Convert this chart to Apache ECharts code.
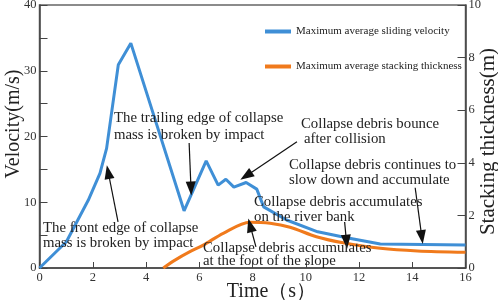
<!DOCTYPE html>
<html><head><meta charset="utf-8">
<script src="https://cdn.jsdelivr.net/npm/echarts@6/dist/echarts.min.js"></script>
<style>html,body{margin:0;padding:0;background:#fff}#c{width:498px;height:300px}</style>
</head><body><div id="c"></div>
<script>
// Maximum average sliding velocity (m/s)
const velTime = [0, 1.01, 1.83, 2.27, 2.52, 2.96, 3.43, 5.43, 6.26, 6.71, 7.0, 7.3, 7.76, 8.16, 8.42, 9.28, 10.45, 11.54, 12.8, 16];
const velocity = [0, 4.0, 10.3, 14.4, 18.2, 30.9, 34.2, 8.7, 16.3, 12.6, 13.5, 12.3, 13.0, 12.0, 9.3, 7.3, 5.5, 4.6, 3.65, 3.5];
// Maximum average stacking thickness (m)
const thkTime = [4.65, 5.09, 5.65, 6.15, 6.9, 7.9, 8.66, 9.41, 10.4, 11.4, 12.8, 14.2, 16];
const thickness = [0, 0.30, 0.62, 0.87, 1.32, 1.74, 1.70, 1.55, 1.19, 0.96, 0.75, 0.65, 0.6];
const seriesNames = ['Maximum average sliding velocity', 'Maximum average stacking thickness'];
// annotation arrows: [fromTime, fromVel, toTime, toVel] (velocity-axis units)
const arrows = [
  [2.95, 7.0, 2.58, 14.6],
  [5.62, 19.0, 5.69, 12.1],
  [9.67, 19.2, 7.76, 14.0],
  [11.46, 7.0, 11.53, 4.0],
  [14.11, 12.2, 14.36, 4.7],
  [8.13, 3.2, 7.91, 6.5]
];
// annotation texts: [text, x, y]
const notes = [
  ['The trailing edge of collapse', 114, 118], ['mass is broken by impact', 114, 135],
  ['Collapse debris bounce', 301, 124], ['after collision', 304, 139],
  ['Collapse debris continues to', 289, 165], ['slow down and accumulate', 289, 180],
  ['Collapse debris accumulates', 254, 202], ['on the river bank', 254, 217],
  ['Collapse debris accumulates', 203, 248], ['at the foot of the slope', 203, 261],
  ['The front edge of collapse', 43, 228], ['mass is broken by impact', 43, 243]
];

const FONT = 'Liberation Serif';
const chart = echarts.init(document.getElementById('c'));
const axisLine = {show: true, lineStyle: {color: '#444', width: 1.5}};
chart.setOption({
  animation: false,
  backgroundColor: '#fff',
  textStyle: {fontFamily: FONT},
  grid: {left: 39.5, right: 32.5, top: 5, bottom: 32, containLabel: false, outerBoundsMode: 'none',
    show: true, borderColor: '#666', borderWidth: 1.5},
  legend: {
    orient: 'vertical', left: 265, top: 26, padding: 0, itemWidth: 26, itemHeight: 4, itemGap: 24,
    icon: 'rect',
    textStyle: {fontFamily: FONT, fontSize: 11, color: '#222'},
    data: seriesNames
  },
  xAxis: {
    type: 'value', min: 0, max: 16, interval: 2,
    name: 'Time（s）', nameLocation: 'middle', nameGap: 14, nameMoveOverlap: false,
    nameTextStyle: {fontFamily: FONT, fontSize: 20, color: '#222', padding: [0, 0, 0, 38]},
    axisLine: axisLine,
    axisTick: {show: true, inside: true, length: 6, lineStyle: {color: '#444'}},
    axisLabel: {fontFamily: FONT, fontSize: 12.5, color: '#333', margin: 3},
    splitLine: {show: false}
  },
  yAxis: [{
    type: 'value', min: 0, max: 40, interval: 5,
    name: 'Velocity(m/s)', nameLocation: 'middle', nameGap: 16, nameMoveOverlap: false,
    nameTextStyle: {fontFamily: FONT, fontSize: 20, color: '#222', padding: [0, 0, 0, 25]},
    axisLine: axisLine,
    axisTick: {show: true, inside: true, length: 8, lineStyle: {color: '#444'}},
    axisLabel: {fontFamily: FONT, fontSize: 12.5, color: '#333', margin: 3,
      formatter: v => (v % 10 === 0 ? String(v) : '')},
    splitLine: {show: false}
  }, {
    type: 'value', min: 0, max: 10, interval: 2, position: 'right',
    name: 'Stacking thickness(m)', nameLocation: 'middle', nameGap: 12, nameMoveOverlap: false,
    nameTextStyle: {fontFamily: FONT, fontSize: 21, color: '#222', padding: [0, 10, 0, 0]},
    axisLine: axisLine,
    axisTick: {show: true, inside: true, length: 8, lineStyle: {color: '#444'}},
    axisLabel: {fontFamily: FONT, fontSize: 12.5, color: '#333', margin: 3},
    splitLine: {show: false}
  }],
  series: [{
    name: seriesNames[0], type: 'line', yAxisIndex: 0,
    data: velTime.map((t, i) => [t, velocity[i]]),
    showSymbol: false, symbol: 'none',
    lineStyle: {color: '#3f8fd6', width: 3}, itemStyle: {color: '#3f8fd6'},
    markLine: {
      silent: true, symbol: ['none', 'triangle'], symbolSize: [10, 14],
      label: {show: false},
      lineStyle: {color: '#111', width: 1.2, type: 'solid'},
      data: arrows.map(a => [{coord: [a[0], a[1]]}, {coord: [a[2], a[3]]}])
    },
    z: 3
  }, {
    name: seriesNames[1], type: 'line', yAxisIndex: 1,
    data: thkTime.map((t, i) => [t, thickness[i]]),
    smooth: 0.3, showSymbol: false, symbol: 'none',
    lineStyle: {color: '#f07a1c', width: 3}, itemStyle: {color: '#f07a1c'},
    z: 2
  }],
  graphic: notes.map(n => ({
    type: 'text', x: n[1], y: n[2], z: 10, silent: true,
    style: {text: n[0], fill: '#222', font: '14.8px "' + FONT + '"', textAlign: 'left', textVerticalAlign: 'middle'}
  }))
});
</script></body></html>
